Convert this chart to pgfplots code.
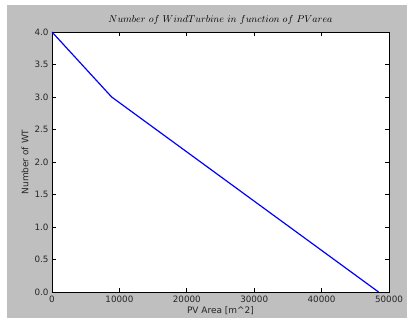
\documentclass[border=0pt]{standalone}
\usepackage{fontspec}
\setmainfont{DejaVu Sans}
\usepackage{pgfplots}
\pgfplotsset{compat=1.18}
\definecolor{figgrey}{gray}{0.75}
\begin{document}
\begin{tikzpicture}[x=1bp,y=1bp]
\fill[white] (-52,-28) rectangle (360,292);
\fill[figgrey] (-45,-26) rectangle (355,287);
\begin{axis}[at={(0,0)}, anchor=south west, scale only axis,
  width=337bp, height=260bp,
  xmin=0, xmax=50000, ymin=0, ymax=4,
  axis background/.style={fill=white},
  axis line style={line width=0.8bp},
  tick align=inside, major tick length=4bp,
  tick style={black, line width=0.6bp},
  xtick={0,10000,20000,30000,40000,50000},
  ytick={0,0.5,1,1.5,2,2.5,3,3.5,4},
  scaled x ticks=false,
  /pgf/number format/assume math mode=true,
  xticklabel={\pgfmathprintnumber[fixed,1000 sep={},assume math mode=true]{\tick}},
  yticklabel={\pgfmathprintnumber[fixed,fixed zerofill,precision=1,assume math mode=true]{\tick}},
  tick label style={font=\fontsize{8.8}{10}\selectfont, color=black!85},
  title={$Number\ of\ WindTurbine\ in\ function\ of\ PVarea$},
  title style={at={(axis description cs:0.5,1)}, anchor=base, yshift=4bp, font=\fontsize{10}{11}\selectfont},
  xlabel={PV Area [m\textasciicircum 2]},
  ylabel={Number of WT},
  every axis x label/.style={at={(axis description cs:0.5,0)}, anchor=center, yshift=-19bp, font=\fontsize{9}{10}\selectfont, color=black!85},
  every axis y label/.style={at={(axis description cs:-0.080,0.5)}, anchor=center, rotate=90, font=\fontsize{9}{10}\selectfont, color=black!85},
]
\addplot[blue, line width=1.2bp] coordinates {(0,4) (8850,3) (48450,0)};
\end{axis}
\end{tikzpicture}
\end{document}
